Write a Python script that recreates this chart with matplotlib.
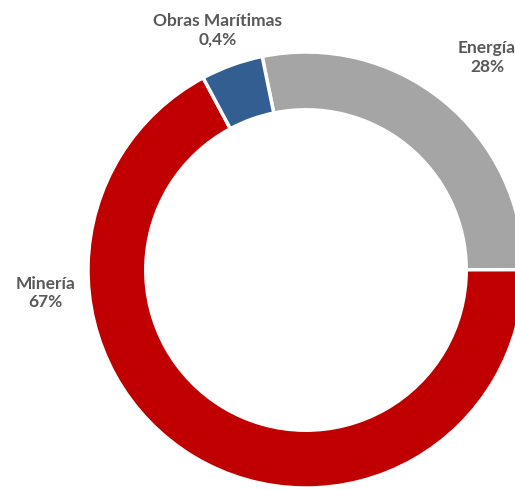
import matplotlib.pyplot as plt

# data
sectores = ['Energía', 'Minería', 'Obras Marítimas']
valores = [28.2, 67.2, 4.6]
etiquetas = ['Energía\n28%', 'Minería\n67%', 'Obras Marítimas\n0,4%']
colores = ['#A5A5A5', '#C00000', '#335E92']

fig = plt.figure(figsize=(5.15, 4.9), dpi=100, facecolor='white')
ax = fig.add_axes([0, 0, 1, 1])

ax.pie(valores, colors=colores, startangle=101.6, counterclock=False,
       radius=1.0, wedgeprops=dict(width=0.265, edgecolor='white', linewidth=2.5))

# label positions (data coords, pie centre at 0,0)
pos = [(0.83, 0.975), (-1.195, -0.105), (-0.405, 1.10)]
for txt, (x, y) in zip(etiquetas, pos):
    ax.text(x, y, txt, ha='center', va='center', fontsize=12.5, fontweight='bold',
            color='#595959', family=['Lato', 'DejaVu Sans'], linespacing=1.2)

ax.set_xlim(-306 / 218, (515 - 306) / 218)
ax.set_ylim(-(490 - 270) / 218, 270 / 218)
ax.set_aspect('auto')
ax.axis('off')

fig.savefig('out.png', dpi=100, facecolor='white')
